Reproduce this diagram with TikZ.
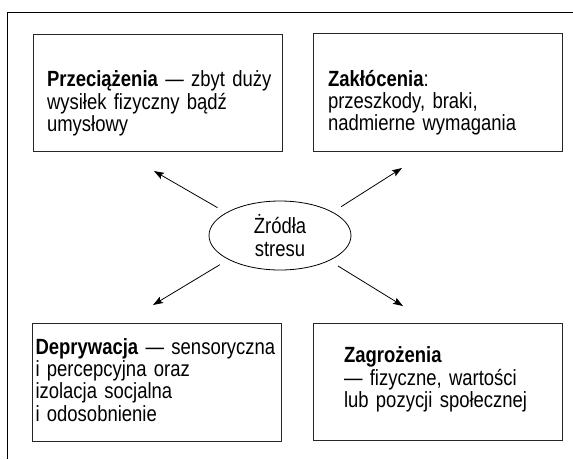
\documentclass[tikz,border=0pt]{standalone}
\usepackage{fontspec}
\setmainfont{Liberation Sans}[FakeStretch=0.84]
\usetikzlibrary{arrows.meta,positioning,shapes}

\begin{document}
\begin{tikzpicture}[x=1pt,y=-1pt,>={Stealth[length=10pt,width=7pt,inset=2pt]},line width=0.9pt]
  \tikzstyle{box}=[rectangle,draw=black!85,minimum width=249pt,minimum height=117.5pt]
  \tikzstyle{desc}=[anchor=base west,inner sep=0pt,align=left,text width=270pt,
                    font=\fontsize{22}{22.3}\selectfont]
  \tikzstyle{source}=[ellipse,draw,line width=0.8pt,minimum width=142pt,minimum height=69pt,
                      inner sep=0pt,align=center,font=\fontsize{22}{23}\selectfont]
  \tikzstyle{link}=[->,line width=0.8pt,shorten <=10pt]

  \useasboundingbox (0,0) rectangle (573,459);
  % frame, cut off on the right and at the bottom
  \draw (573,12) -| (7,459);

  % the four kinds of sources
  \node[box] (over) at (157.5,93) {};
  \node[box] (dist) at (437.5,92.5) {};
  \node[box] (depr) at (157,382.5) {};
  \node[box] (threat) at (437.5,382) {};

  \node[desc] (overtext) at ([shift={(14,53)}]over.north west)
    {\makebox[225pt][s]{\textbf{Przeciążenia} — zbyt duży}\\wysiłek fizyczny bądź\\umysłowy};
  \node[desc] (disttext) at ([shift={(15,53)}]dist.north west)
    {\textbf{Zakłócenia}:\\przeszkody, braki,\\nadmierne wymagania};
  \node[desc] (deprtext) at ([shift={(3,31)}]depr.north west)
    {\textbf{Deprywacja} — sensoryczna\\i percepcyjna oraz\\izolacja socjalna\\i odosobnienie};
  \node[desc] (threattext) at ([shift={(31,40)}]threat.north west)
    {\textbf{Zagrożenia}\\— fizyczne, wartości\\lub pozycji społecznej};

  % centre
  \node[source] (src) at (280,235.5) {Żródła\\stresu};

  \coordinate (overtip) at (154,171);
  \coordinate (disttip) at (402,168);
  \coordinate (deprtip) at (153,305);
  \coordinate (threattip) at (403,306);

  \draw[link] (src.157) -- (overtip);
  \draw[link] (src.24) -- (disttip);
  \draw[link] (src.205) -- (deprtip);
  \draw[link] (src.333) -- (threattip);
\end{tikzpicture}
\end{document}
